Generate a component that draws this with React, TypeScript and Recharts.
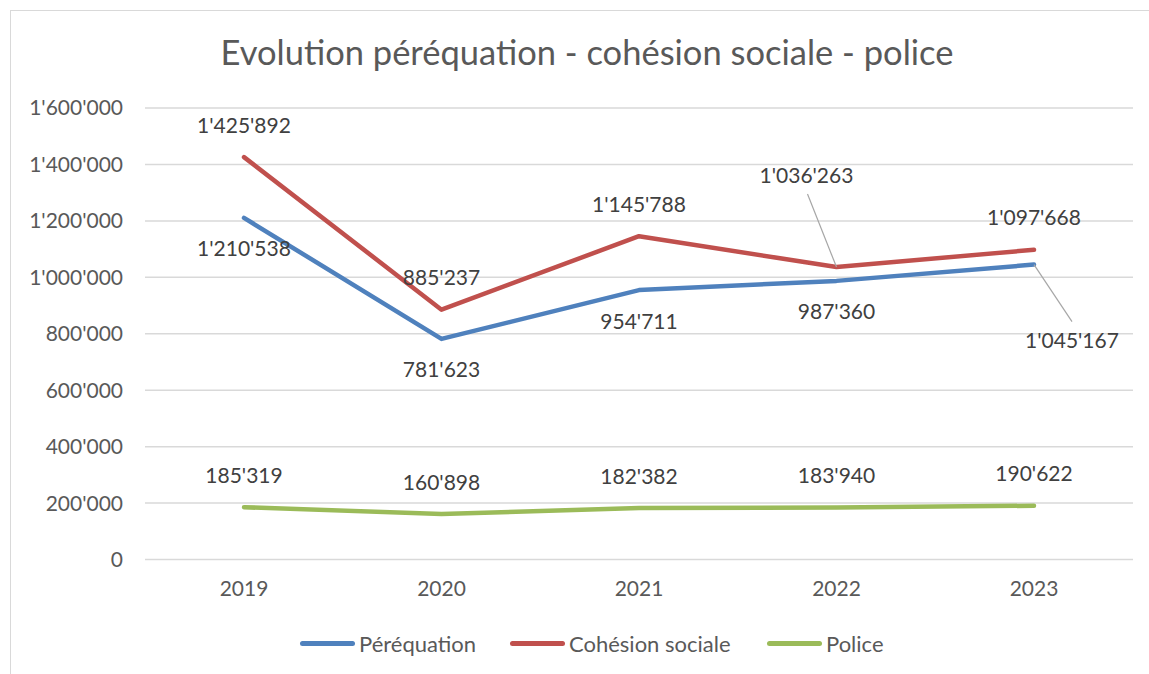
import React from 'react';
import { LineChart, Line, XAxis, YAxis, CartesianGrid, LabelList } from 'recharts';

const years = ['2019', '2020', '2021', '2022', '2023'];
const perequation = [1210538, 781623, 954711, 987360, 1045167];
const cohesion = [1425892, 885237, 1145788, 1036263, 1097668];
const police = [185319, 160898, 182382, 183940, 190622];
const yTicks = [0, 200000, 400000, 600000, 800000, 1000000, 1200000, 1400000, 1600000];

const SERIES = [
  { key: 'perequation', name: 'Péréquation', color: '#4F81BD', placement: 'below' },
  { key: 'cohesion', name: 'Cohésion sociale', color: '#C0504D', placement: 'above' },
  { key: 'police', name: 'Police', color: '#9BBB59', placement: 'above' },
];

// labels that Excel moved away from their point, with a leader line
const CALLOUTS: { [key: string]: { [index: number]: { dx: number; dy: number } } } = {
  perequation: { 4: { dx: 38, dy: 76 } },
  cohesion: { 3: { dx: -30, dy: -92 } },
};

const FONT = 'Lato, "Noto Sans", sans-serif';
const TEXT = '#595959';
const LABEL = '#404040';

const fmt = (v: number) => String(v).replace(/\B(?=(\d{3})+(?!\d))/g, "'");

const data = years.map((year, i) => ({
  year,
  perequation: perequation[i],
  cohesion: cohesion[i],
  police: police[i],
}));

const makeLabel = (key: string, placement: string) => (props: any) => {
  const { x, y, value, index } = props;
  const callout = CALLOUTS[key] && CALLOUTS[key][index];
  if (callout) {
    const cx = x + callout.dx;
    const cy = y + callout.dy;
    const sy = cy + (callout.dy < 0 ? 19 : -19);
    return (
      <g>
        <path d={`M${cx + (callout.dy < 0 ? 1 : 0)},${sy}L${x},${y}`} stroke="#A6A6A6" strokeWidth={1.2} fill="none" />
        <text x={cx} y={cy + 7.5} textAnchor="middle" fill={LABEL} fontFamily={FONT} fontSize={21}>
          {fmt(value)}
        </text>
      </g>
    );
  }
  const cy = placement === 'above' ? y - 32 : y + 31;
  return (
    <text x={x} y={cy + 7.5} textAnchor="middle" fill={LABEL} fontFamily={FONT} fontSize={21}>
      {fmt(value)}
    </text>
  );
};

const LEGEND_LEFT = [300, 510, 767];

export default function App() {
  return (
    <div style={{ position: 'absolute', left: 0, top: 0, width: 1149, height: 674, overflow: 'hidden', background: '#fff' }}>
      <div
        style={{
          position: 'absolute',
          left: 10,
          top: 10,
          width: 1200,
          height: 700,
          borderLeft: '1.5px solid #D9D9D9',
          borderTop: '1.5px solid #D9D9D9',
        }}
      />
      <div
        style={{
          position: 'absolute',
          left: 0,
          width: 1174,
          top: 29,
          textAlign: 'center',
          fontFamily: FONT,
          fontSize: 34.5,
          color: TEXT,
          lineHeight: '46px',
        }}
      >
        Evolution péréquation - cohésion sociale - police
      </div>
      <div style={{ position: 'absolute', left: 0, top: 0 }}>
        <LineChart width={1149} height={674} data={data} margin={{ top: 108, right: 16, left: 0, bottom: 0 }}>
          <CartesianGrid vertical={false} stroke="#D9D9D9" strokeWidth={1.5} />
          <XAxis
            dataKey="year"
            axisLine={false}
            tickLine={false}
            tickSize={0}
            tickMargin={22}
            height={114.5}
            padding={{ left: 99, right: 99 }}
            tick={{ fontFamily: FONT, fontSize: 21, fill: TEXT }}
          />
          <YAxis
            domain={[0, 1600000]}
            ticks={yTicks}
            axisLine={false}
            tickLine={false}
            tickSize={0}
            tickMargin={22}
            width={145}
            tickFormatter={fmt}
            tick={{ fontFamily: FONT, fontSize: 21, fill: TEXT }}
          />
          {SERIES.map((s) => (
            <Line
              key={s.key}
              dataKey={s.key}
              name={s.name}
              stroke={s.color}
              strokeWidth={4.5}
              strokeLinecap="round"
              strokeLinejoin="round"
              dot={false}
              activeDot={false}
              isAnimationActive={false}
            >
              <LabelList dataKey={s.key} content={makeLabel(s.key, s.placement)} />
            </Line>
          ))}
        </LineChart>
      </div>
      {SERIES.map((s, i) => (
        <div
          key={s.key}
          style={{
            position: 'absolute',
            left: LEGEND_LEFT[i],
            top: 630,
            height: 26,
            display: 'flex',
            alignItems: 'center',
            fontFamily: FONT,
            fontSize: 22,
            color: TEXT,
          }}
        >
          <span style={{ display: 'inline-block', width: 55, height: 5, borderRadius: 3, background: s.color, marginRight: 4 }} />
          <span>{s.name}</span>
        </div>
      ))}
    </div>
  );
}
